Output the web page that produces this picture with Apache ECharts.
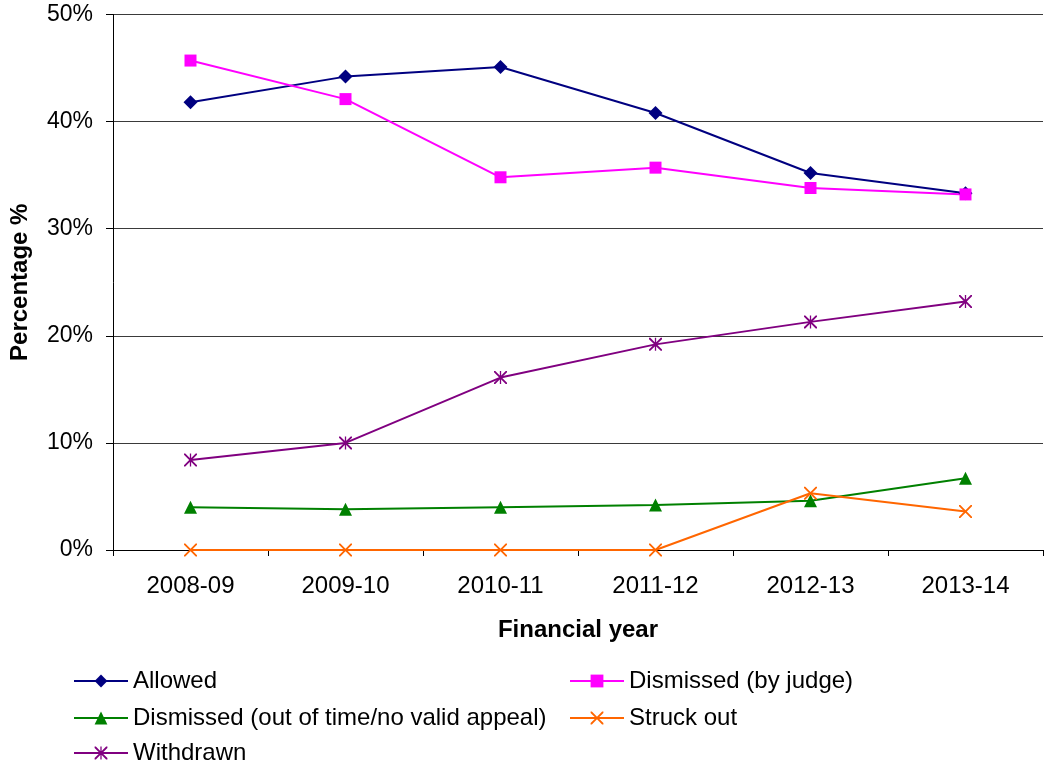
<!DOCTYPE html>
<html>
<head>
<meta charset="utf-8">
<script src="https://cdn.jsdelivr.net/npm/echarts@6/dist/echarts.min.js"></script>
<style>
  html, body { margin: 0; padding: 0; background: #fff; }
  #chart { width: 1046px; height: 764px; }
</style>
</head>
<body>
<div id="chart"></div>
<script>
// Financial years on the category axis
const years = ['2008-09', '2009-10', '2010-11', '2011-12', '2012-13', '2013-14'];

// Outcome shares, percent of appeals
const allowed = [41.8, 44.2, 45.1, 40.8, 35.2, 33.3];
const dismissedJudge = [45.7, 42.1, 34.8, 35.7, 33.8, 33.2];
const dismissedOutOfTime = [4.0, 3.8, 4.0, 4.2, 4.6, 6.7];
const struckOut = [0, 0, 0, 0, 5.3, 3.6];
const withdrawn = [8.4, 10.0, 16.1, 19.2, 21.3, 23.2];

const yTicks = [0, 10, 20, 30, 40, 50];

const FONT = '"Liberation Sans", Arial, sans-serif';

// Marker shapes drawn as filled outlines
const crossPath = 'path://M0,0 L2,0 L10,8 L18,0 L20,0 L20,2 L12,10 L20,18 L20,20 L18,20 L10,12 L2,20 L0,20 L0,18 L8,10 L0,2 Z';
const starPath = crossPath + ' M9,0 L11,0 L11,20 L9,20 Z';

const seriesDefs = [
  { name: 'Allowed', data: allowed, color: '#000080', symbol: 'diamond', size: 14 },
  { name: 'Dismissed (by judge)', data: dismissedJudge, color: '#FF00FF', symbol: 'rect', size: 12 },
  { name: 'Dismissed (out of time/no valid appeal)', data: dismissedOutOfTime, color: '#008000', symbol: 'triangle', size: 13 },
  { name: 'Struck out', data: struckOut, color: '#FF6600', symbol: crossPath, size: 13 },
  { name: 'Withdrawn', data: withdrawn, color: '#800080', symbol: starPath, size: 13 }
];

// Legend placement: two columns, three rows
const legendSlots = [
  { left: 73, top: 669 },
  { left: 569, top: 669 },
  { left: 73, top: 706 },
  { left: 569, top: 706 },
  { left: 73, top: 741 }
];

const chart = echarts.init(document.getElementById('chart'), null, { renderer: 'canvas' });

chart.setOption({
  backgroundColor: '#ffffff',
  animation: false,
  grid: { left: 113, right: 3, top: 14.5, bottom: 214, containLabel: false, outerBoundsMode: 'none' },
  legend: seriesDefs.map((s, i) => ({
    data: [s.name],
    left: legendSlots[i].left,
    top: legendSlots[i].top,
    itemWidth: 54,
    itemHeight: 16,
    padding: 0,
    textStyle: { fontFamily: FONT, fontSize: 24, color: '#000' }
  })),
  xAxis: {
    type: 'category',
    data: years,
    boundaryGap: true,
    name: 'Financial year',
    nameLocation: 'middle',
    nameGap: 68,
    nameTextStyle: { fontFamily: FONT, fontSize: 24, fontWeight: 'bold', color: '#000' },
    axisLine: { lineStyle: { color: '#000', width: 1 } },
    axisTick: { show: true, length: 6, lineStyle: { color: '#000' } },
    axisLabel: { fontFamily: FONT, fontSize: 24, color: '#000', margin: 24 },
    splitLine: { show: false }
  },
  yAxis: {
    type: 'value',
    min: yTicks[0],
    max: yTicks[yTicks.length - 1],
    interval: 10,
    name: 'Percentage %',
    nameLocation: 'middle',
    nameGap: 81,
    nameTextStyle: { fontFamily: FONT, fontSize: 24, fontWeight: 'bold', color: '#000' },
    axisLine: { show: true, lineStyle: { color: '#000', width: 1 } },
    axisTick: { show: true, length: 7, lineStyle: { color: '#000' } },
    axisLabel: { fontFamily: FONT, fontSize: 23, color: '#000', margin: 20, formatter: '{value}%' },
    splitLine: { show: true, lineStyle: { color: '#3a3a3a', width: 1 } }
  },
  series: seriesDefs.map(s => ({
    name: s.name,
    type: 'line',
    data: s.data,
    symbol: s.symbol,
    symbolSize: s.size,
    showAllSymbol: true,
    clip: false,
    color: s.color,
    lineStyle: { color: s.color, width: 2 },
    itemStyle: { color: s.color, borderWidth: 0 },
    emphasis: { disabled: true }
  }))
});
</script>
</body>
</html>
